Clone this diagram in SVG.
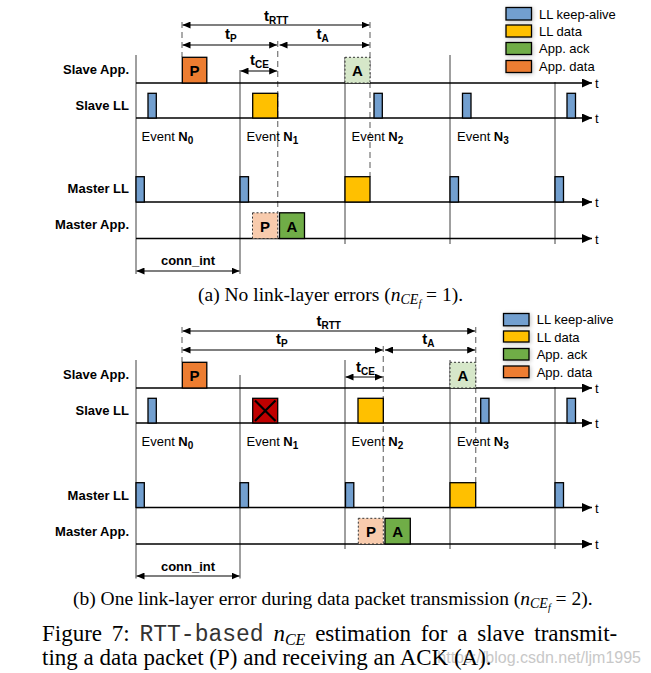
<svg xmlns="http://www.w3.org/2000/svg" width="651" height="673" viewBox="0 0 651 673">
<style>
.lbl{font-family:"Liberation Sans",Arial,sans-serif;font-size:13px;font-weight:bold;text-anchor:end;fill:#000}
.ev{font-family:"Liberation Sans",Arial,sans-serif;font-size:13px;fill:#000}
.evb{font-weight:bold}
.lg{font-family:"Liberation Sans",Arial,sans-serif;font-size:13px;fill:#000}
.tl{font-family:"Liberation Sans",Arial,sans-serif;font-size:15px;font-weight:bold;fill:#000}
.bt{font-family:"Liberation Sans",Arial,sans-serif;font-size:15px;font-weight:bold;text-anchor:middle;fill:#000}
.ci{font-family:"Liberation Sans",Arial,sans-serif;font-size:13px;font-weight:bold;text-anchor:middle;fill:#000}
.tt{font-family:"Liberation Sans",Arial,sans-serif;font-size:13px;fill:#000}
.axis{stroke:#000;stroke-width:1.6;fill:none;marker-end:url(#ax)}
.vl{stroke:#404040;stroke-width:1;fill:none}
.dash{stroke:#7f7f7f;stroke-width:1.3;stroke-dasharray:6 4;fill:none}
.dim{stroke:#000;stroke-width:1.2;fill:none;marker-start:url(#ah);marker-end:url(#ah)}
.ka{fill:#729FCF;stroke:#000;stroke-width:1.3}
.lld{fill:#FFC000;stroke:#000;stroke-width:1.3}
.ack{fill:#70AD47;stroke:#000;stroke-width:1.3}
.ad{fill:#ED7D31;stroke:#000;stroke-width:1.3}
.ackf{fill:#D6E7C9;stroke:#333;stroke-width:1;stroke-dasharray:2 2}
.adf{fill:#F8CBAD;stroke:#333;stroke-width:1;stroke-dasharray:2 2}
.err{fill:#C00000;stroke:#000;stroke-width:1.3}
.cap{font-family:"Liberation Serif","Times New Roman",serif;font-size:19.5px;fill:#000}
.mcap{font-family:"Liberation Serif","Times New Roman",serif;font-size:23px;fill:#000}
.mono{font-family:"Liberation Mono","Courier New",monospace;fill:#333}
.wm{font-family:"Liberation Sans",Arial,sans-serif;font-size:16px;fill:#c8c8c8;text-anchor:end}
</style>
<defs>
<marker id="ah" viewBox="0 0 8 7" refX="8" refY="3.5" markerWidth="8" markerHeight="7" markerUnits="userSpaceOnUse" orient="auto-start-reverse"><path d="M0,0 L8,3.5 L0,7 z" fill="#000"/></marker>
<marker id="ax" viewBox="0 0 10 9" refX="10" refY="4.5" markerWidth="10" markerHeight="9" markerUnits="userSpaceOnUse" orient="auto"><path d="M0,0 L10,4.5 L0,9 z" fill="#000"/></marker>
<filter id="sh" x="-40%" y="-60%" width="180%" height="220%"><feGaussianBlur in="SourceAlpha" stdDeviation="2"/><feOffset dx="1" dy="1"/><feComponentTransfer><feFuncA type="linear" slope="0.25"/></feComponentTransfer><feMerge><feMergeNode/><feMergeNode in="SourceGraphic"/></feMerge></filter>
</defs>

<!-- ===== Panel (a) ===== -->
<g id="panel-a">
<g id="a-connectors">
<line class="vl" x1="136" y1="55" x2="136" y2="274"/>
<line class="vl" x1="240" y1="70" x2="240" y2="274"/>
<line class="vl" x1="345" y1="57" x2="345" y2="244"/>
<line class="vl" x1="450" y1="55" x2="450" y2="244"/>
<line class="vl" x1="555" y1="82" x2="555" y2="244"/>
<line class="dash" x1="182" y1="22" x2="182" y2="57"/>
<line class="dash" x1="277.7" y1="41" x2="277.7" y2="213"/>
<line class="dash" x1="370" y1="22" x2="370" y2="177"/>
<line class="axis" x1="136" y1="83" x2="592" y2="83"/>
<line class="axis" x1="136" y1="118" x2="592" y2="118"/>
<line class="axis" x1="136" y1="202" x2="592" y2="202"/>
<line class="axis" x1="136" y1="238.5" x2="592" y2="238.5"/>
<line class="dim" x1="182.5" y1="25" x2="369.5" y2="25"/>
<line class="dim" x1="182.5" y1="45" x2="277.2" y2="45"/>
<line class="dim" x1="279.5" y1="45" x2="369.5" y2="45"/>
<line class="dim" x1="240.5" y1="71" x2="277.2" y2="71"/>
<line class="dim" x1="136.5" y1="271" x2="239.5" y2="271"/>
</g>
<text class="tt" x="595" y="88">t</text>
<text class="tt" x="595" y="123">t</text>
<text class="tt" x="595" y="207">t</text>
<text class="tt" x="595" y="243.5">t</text>
<text class="tl" x="264" y="21">t<tspan font-size="10" dy="3">RTT</tspan></text>
<text class="tl" x="225" y="39">t<tspan font-size="10" dy="3">P</tspan></text>
<text class="tl" x="316.5" y="39">t<tspan font-size="10" dy="3">A</tspan></text>
<text class="tl" x="250" y="65">t<tspan font-size="10" dy="3">CE</tspan></text>
<text class="ci" x="188" y="265">conn_int</text>
<g id="a-labels">
<text class="lbl" x="129" y="73.5">Slave App.</text>
<text class="lbl" x="129" y="109.5">Slave LL</text>
<text class="lbl" x="129" y="193">Master LL</text>
<text class="lbl" x="129" y="229">Master App.</text>
</g>
<g id="a-events">
<text class="ev" x="141.5" y="141">Event <tspan class="evb">N<tspan font-size="10" dy="3">0</tspan></tspan></text>
<text class="ev" x="246.5" y="141">Event <tspan class="evb">N<tspan font-size="10" dy="3">1</tspan></tspan></text>
<text class="ev" x="351.5" y="141">Event <tspan class="evb">N<tspan font-size="10" dy="3">2</tspan></tspan></text>
<text class="ev" x="457" y="141">Event <tspan class="evb">N<tspan font-size="10" dy="3">3</tspan></tspan></text>
</g>
<g id="a-slave-app-P"><rect class="ad" x="182.3" y="57.3" width="24.5" height="25.7"/><text class="bt" x="194.5" y="76">P</text></g>
<g id="a-slave-app-A"><rect class="ackf" x="345" y="57.3" width="25" height="25.7"/><text class="bt" x="357.5" y="76">A</text></g>
<g id="a-slave-ll">
<rect class="ka" x="148" y="93.3" width="8.3" height="24.7"/>
<rect class="lld" x="252.7" y="93.3" width="25" height="24.7"/>
<rect class="ka" x="374" y="93.3" width="8.3" height="24.7"/>
<rect class="ka" x="462.5" y="93.3" width="8.5" height="24.7"/>
<rect class="ka" x="567" y="93.3" width="8.5" height="24.7"/>
</g>
<g id="a-master-ll">
<rect class="ka" x="136" y="176.7" width="8.3" height="25.3"/>
<rect class="ka" x="240" y="176.7" width="8.5" height="25.3"/>
<rect class="lld" x="345" y="176.7" width="25" height="25.3"/>
<rect class="ka" x="450" y="176.7" width="8.5" height="25.3"/>
<rect class="ka" x="555" y="176.7" width="8.5" height="25.3"/>
</g>
<g id="a-master-app">
<rect class="adf" x="252.5" y="212.8" width="25.2" height="25.7"/><text class="bt" x="265" y="231.5">P</text>
<rect class="ack" x="279.5" y="212.8" width="25" height="25.7"/><text class="bt" x="292" y="231.5">A</text>
</g>
<g id="a-legend">
<rect class="ka" x="506" y="7.5" width="25.5" height="12.5" filter="url(#sh)"/>
<rect class="lld" x="506" y="25" width="25.5" height="12" filter="url(#sh)"/>
<rect class="ack" x="506" y="42.5" width="25.5" height="12" filter="url(#sh)"/>
<rect class="ad" x="506" y="60.5" width="25.5" height="12" filter="url(#sh)"/>
<text class="lg" x="539" y="18.5">LL keep-alive</text>
<text class="lg" x="539" y="35.5">LL data</text>
<text class="lg" x="539" y="53">App. ack</text>
<text class="lg" x="539" y="70.5">App. data</text>
</g>
<text class="cap" x="198" y="300.7">(a) No link-layer errors (<tspan font-style="italic">n</tspan><tspan font-style="italic" font-size="14" dy="3">CE</tspan><tspan font-style="italic" font-size="10" dy="3">f</tspan><tspan dy="-6"> = 1).</tspan></text>
</g>

<!-- ===== Panel (b) ===== -->
<g id="panel-b">
<g id="b-connectors">
<line class="vl" x1="136" y1="360" x2="136" y2="578.5"/>
<line class="vl" x1="240" y1="375" x2="240" y2="578.5"/>
<line class="vl" x1="345" y1="360" x2="345" y2="549"/>
<line class="vl" x1="450" y1="360" x2="450" y2="549"/>
<line class="vl" x1="555" y1="387" x2="555" y2="549"/>
<line class="dash" x1="182" y1="327" x2="182" y2="362"/>
<line class="dash" x1="383.3" y1="346" x2="383.3" y2="518"/>
<line class="dash" x1="475.7" y1="327" x2="475.7" y2="483"/>
<line class="axis" x1="136" y1="388" x2="592" y2="388"/>
<line class="axis" x1="136" y1="423" x2="592" y2="423"/>
<line class="axis" x1="136" y1="507.5" x2="592" y2="507.5"/>
<line class="axis" x1="136" y1="544" x2="592" y2="544"/>
<line class="dim" x1="182.5" y1="331" x2="475.2" y2="331"/>
<line class="dim" x1="182.5" y1="350" x2="382.8" y2="350"/>
<line class="dim" x1="385" y1="350" x2="475.2" y2="350"/>
<line class="dim" x1="345.5" y1="377" x2="382.8" y2="377"/>
<line class="dim" x1="136.5" y1="576" x2="239.5" y2="576"/>
</g>
<text class="tt" x="595" y="393">t</text>
<text class="tt" x="595" y="428">t</text>
<text class="tt" x="595" y="512.5">t</text>
<text class="tt" x="595" y="549">t</text>
<text class="tl" x="316.5" y="326">t<tspan font-size="10" dy="3">RTT</tspan></text>
<text class="tl" x="276" y="344">t<tspan font-size="10" dy="3">P</tspan></text>
<text class="tl" x="422.3" y="344">t<tspan font-size="10" dy="3">A</tspan></text>
<text class="tl" x="356" y="371.5">t<tspan font-size="10" dy="3">CE</tspan></text>
<text class="ci" x="188" y="571">conn_int</text>
<g id="b-labels">
<text class="lbl" x="129" y="378.5">Slave App.</text>
<text class="lbl" x="129" y="414.5">Slave LL</text>
<text class="lbl" x="129" y="499.5">Master LL</text>
<text class="lbl" x="129" y="536">Master App.</text>
</g>
<g id="b-events">
<text class="ev" x="141.5" y="446">Event <tspan class="evb">N<tspan font-size="10" dy="3">0</tspan></tspan></text>
<text class="ev" x="246.5" y="446">Event <tspan class="evb">N<tspan font-size="10" dy="3">1</tspan></tspan></text>
<text class="ev" x="351.5" y="446">Event <tspan class="evb">N<tspan font-size="10" dy="3">2</tspan></tspan></text>
<text class="ev" x="457" y="446">Event <tspan class="evb">N<tspan font-size="10" dy="3">3</tspan></tspan></text>
</g>
<g id="b-slave-app-P"><rect class="ad" x="182.3" y="362.3" width="24.5" height="25.7"/><text class="bt" x="194.5" y="381">P</text></g>
<g id="b-slave-app-A"><rect class="ackf" x="450" y="362.3" width="25.7" height="25.7"/><text class="bt" x="463" y="381">A</text></g>
<g id="b-slave-ll">
<rect class="ka" x="148" y="398.3" width="8.3" height="24.7"/>
<g id="b-error"><rect class="err" x="252.7" y="398.3" width="25" height="24.7"/><path d="M255,400.5 L275.5,421 M275.5,400.5 L255,421" stroke="#000" stroke-width="2.2"/></g>
<rect class="lld" x="358" y="398.3" width="25.3" height="24.7"/>
<rect class="ka" x="480.7" y="398.3" width="8.3" height="24.7"/>
<rect class="ka" x="567" y="398.3" width="8.5" height="24.7"/>
</g>
<g id="b-master-ll">
<rect class="ka" x="136" y="482.7" width="8.3" height="24.8"/>
<rect class="ka" x="240" y="482.7" width="8.5" height="24.8"/>
<rect class="ka" x="345.5" y="482.7" width="8.3" height="24.8"/>
<rect class="lld" x="450" y="482.7" width="25.7" height="24.8"/>
<rect class="ka" x="555" y="482.7" width="8.5" height="24.8"/>
</g>
<g id="b-master-app">
<rect class="adf" x="358.3" y="518.3" width="25" height="25.7"/><text class="bt" x="371" y="537">P</text>
<rect class="ack" x="385" y="518.3" width="25.3" height="25.7"/><text class="bt" x="397.7" y="537">A</text>
</g>
<g id="b-legend">
<rect class="ka" x="503.5" y="313.5" width="25.5" height="12.3" filter="url(#sh)"/>
<rect class="lld" x="503.5" y="331" width="25.5" height="11" filter="url(#sh)"/>
<rect class="ack" x="503.5" y="348.5" width="25.5" height="11.5" filter="url(#sh)"/>
<rect class="ad" x="503.5" y="366" width="25.5" height="11.7" filter="url(#sh)"/>
<text class="lg" x="536.7" y="324">LL keep-alive</text>
<text class="lg" x="536.7" y="341.5">LL data</text>
<text class="lg" x="536.7" y="359">App. ack</text>
<text class="lg" x="536.7" y="376.5">App. data</text>
</g>
<text class="cap" x="73" y="605">(b) One link-layer error during data packet transmission (<tspan font-style="italic">n</tspan><tspan font-style="italic" font-size="14" dy="3">CE</tspan><tspan font-style="italic" font-size="10" dy="3">f</tspan><tspan dy="-6"> = 2).</tspan></text>
</g>

<!-- ===== Figure caption ===== -->
<text class="wm" x="641" y="663">https://blog.csdn.net/ljm1995</text>
<g id="figure-caption">
<text class="mcap" x="42" y="641" word-spacing="4">Figure 7: <tspan class="mono">RTT-based</tspan> <tspan font-style="italic">n</tspan><tspan font-style="italic" font-size="16" dy="4">CE</tspan><tspan dy="-4"> estimation for a slave transmit-</tspan></text>
<text class="mcap" x="42" y="665">ting a data packet (P) and receiving an ACK (A).</text>
</g>
</svg>
